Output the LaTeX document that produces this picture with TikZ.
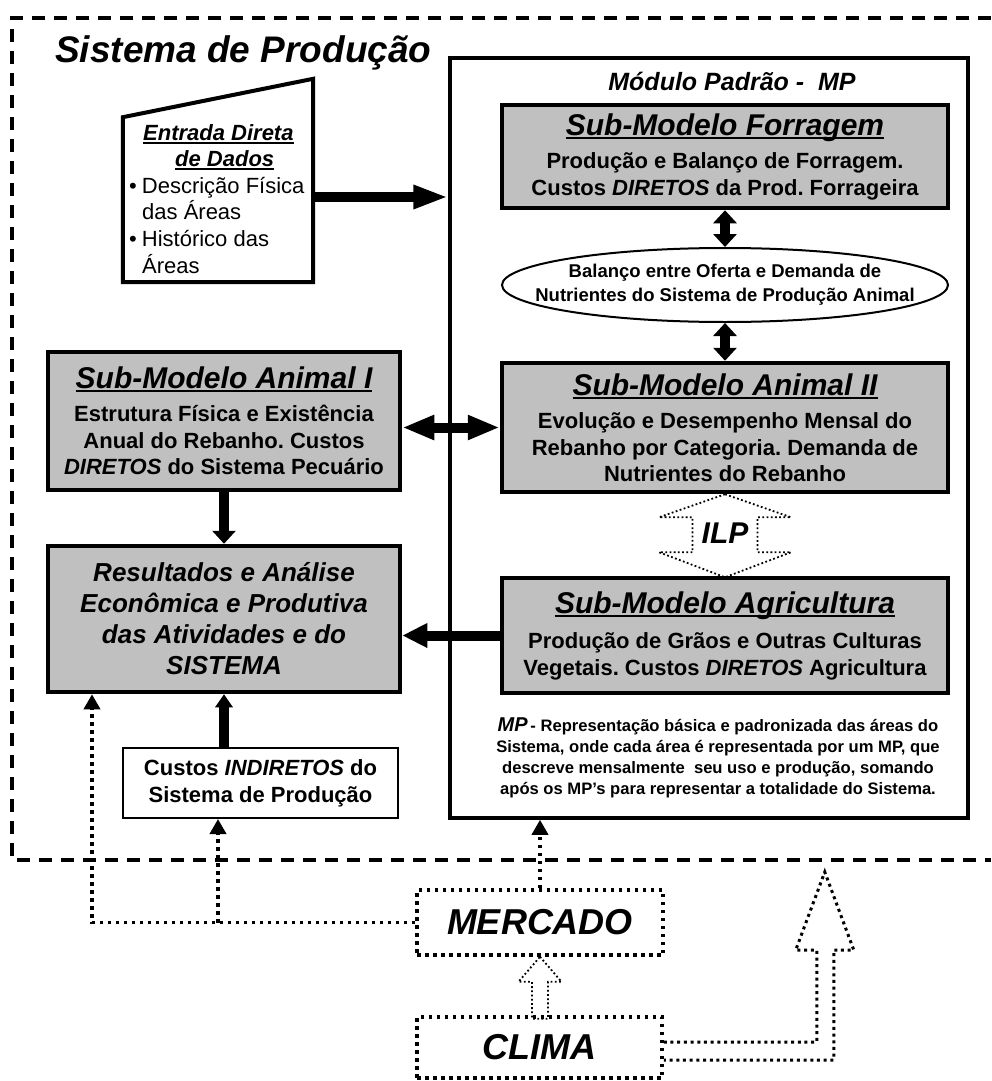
\documentclass[tikz,border=0pt]{standalone}
\usepackage{fontspec}
\setmainfont{Liberation Sans}
\frenchspacing
\usetikzlibrary{arrows.meta,shapes.geometric,positioning}
\definecolor{cinza}{RGB}{192,192,192}
\newcommand{\sublinha}[1]{\setbox0\hbox{#1}\rlap{\rule[-3.5pt]{\wd0}{1.8pt}}\box0}
\newcommand{\tit}[1]{{\fontsize{30}{30}\selectfont\itshape\sublinha{#1}}}
\tikzset{
  submodelo/.style={draw, line width=4.5pt, fill=cinza, minimum width=446pt, inner sep=0pt, align=center,
    font=\fontsize{22}{26.5}\selectfont\bfseries},
  grossa/.style={line width=10pt},
  pontos/.style={line width=3.5pt, dash pattern=on 3.5pt off 4.5pt},
  pontos3/.style={line width=3pt, dash pattern=on 3pt off 3.7pt},
  pontinhos/.style={line width=1.8pt, dash pattern=on 1.8pt off 2.4pt},
  pontaP/.style={-{Triangle[length=15pt,width=16pt]}},
}
\begin{document}
\begin{tikzpicture}[x=1pt, y=-1pt]
  \useasboundingbox (0,0) rectangle (991,1081);
  \draw[line width=3.5pt, dash pattern=on 13pt off 9pt] (991,18) -- (12,18) -- (12,860) -- (991,860);
  \node[anchor=base west, inner sep=0pt, font=\fontsize{37}{37}\selectfont\bfseries\itshape] (sistema) at (55,63) {Sistema de Produção};

  \node[draw, line width=3.5pt, minimum width=518pt, minimum height=760pt, inner sep=0pt] (modulo) at (709,438) {};
  \node[anchor=base, inner sep=0pt, font=\fontsize{25}{25}\selectfont\bfseries\itshape] (modulotitulo) at (732,90) {Módulo Padrão -\ \ MP};

  \node[minimum width=190pt, minimum height=203pt, inner sep=0pt] (entrada) at (218,180.5) {};
  \draw[line width=4pt] (entrada.south west) -- ++(0,-165) -- (entrada.north east) -- (entrada.south east) -- cycle;
  \node[anchor=north west, align=left, inner sep=0pt, font=\fontsize{22}{26.6}\selectfont] (entradatexto) at (129,124) {%
    \hspace*{14pt}{\bfseries\itshape\sublinha{Entrada Direta}}\\
    \hspace*{46pt}{\bfseries\itshape\sublinha{de Dados}}\\
    •\hspace{5pt}Descrição Física\\
    \hspace*{13pt}das Áreas\\
    •\hspace{5pt}Histórico das\\
    \hspace*{13pt}Áreas};

  \node[submodelo, minimum height=103pt] (forragem) at (725,156.5) {\tit{Sub-Modelo Forragem}\\[7pt] Produção e Balanço de Forragem.\\ Custos \textit{DIRETOS} da Prod. Forrageira};
  \node[draw, ellipse, line width=2pt, minimum width=446pt, minimum height=74pt, inner sep=0pt] (balanco) at (725,285) {};
  \node[align=center, font=\fontsize{18.5}{24}\selectfont\bfseries] (balancotexto) at (balanco.center) {Balanço entre Oferta e Demanda de\\ Nutrientes do Sistema de Produção Animal};
  \node[submodelo, minimum height=129pt] (animalII) at (725,427.5) {\tit{Sub-Modelo Animal II}\\[7pt] Evolução e Desempenho Mensal do\\ Rebanho por Categoria. Demanda de\\ Nutrientes do Rebanho};
  \node[submodelo, minimum height=115pt] (agricultura) at (725,635.5) {\tit{Sub-Modelo Agricultura}\\[9pt] Produção de Grãos e Outras Culturas\\ Vegetais. Custos \textit{DIRETOS} Agricultura};
  \node[anchor=north, align=center, inner sep=0pt, font=\fontsize{16.6}{21}\selectfont\bfseries] (nota) at (718,718) {%
    {\fontsize{20}{21}\selectfont\itshape MP}\,- Representação básica e padronizada das áreas do\\
    Sistema, onde cada área é representada por um MP, que\\
    descreve mensalmente\ \ seu uso e produção, somando\\
    após os MP’s para representar a totalidade do Sistema.};

  \node[submodelo, minimum width=352pt, minimum height=138pt] (animalI) at (224,421) {\tit{Sub-Modelo Animal I}\\[6.5pt] Estrutura Física e Existência\\ Anual do Rebanho. Custos\\ \textit{DIRETOS} do Sistema Pecuário};
  \node[submodelo, minimum width=352pt, minimum height=146pt, font=\fontsize{26}{31}\selectfont\bfseries\itshape] (resultados) at (224,619) {Resultados e Análise\\ Econômica e Produtiva\\ das Atividades e do\\ SISTEMA};
  \node[draw, line width=2pt, minimum width=275pt, minimum height=70pt, inner sep=0pt, align=center, font=\fontsize{22}{27}\selectfont\bfseries] (custos) at (260.5,783) {Custos \textit{INDIRETOS} do\\ Sistema de Produção};

  \node[pontos, draw, minimum width=246pt, minimum height=65pt, font=\fontsize{36}{36}\selectfont\bfseries\itshape] (mercado) at (540,922.5) {MERCADO};
  \node[pontos, draw, minimum width=245pt, minimum height=61pt, font=\fontsize{36}{36}\selectfont\bfseries\itshape] (clima) at (539.5,1047.5) {CLIMA};

  \coordinate (eA) at ([yshift=-16.5pt]entrada.east);
  \draw[grossa, -{Triangle[length=35pt,width=22pt]}] (eA) -- (eA -| modulo.west);
  \draw[grossa, {Triangle[length=13pt,width=23pt]}-{Triangle[length=13pt,width=23pt]}] (forragem.south) -- (balanco.north);
  \draw[grossa, {Triangle[length=13pt,width=23pt]}-{Triangle[length=13pt,width=23pt]}] (balanco.south) -- (animalII.north);
  \draw[grossa, {Triangle[length=32pt,width=23pt]}-{Triangle[length=32pt,width=23pt]}] (animalI.east |- animalII.west) -- (animalII.west);
  \draw[grossa, -{Triangle[length=13pt,width=23pt]}] (animalI.south) -- (resultados.north);
  \draw[grossa, -{Triangle[length=25pt,width=23pt]}] (agricultura.west) -- (agricultura.west -| resultados.east);
  \draw[grossa, -{Triangle[length=13pt,width=17pt]}] (resultados.south |- custos.north) -- (resultados.south);

  \draw[pontinhos] (animalII.south) -- ++(-66,23) -- ++(33.5,0) -- ++(0,35) -- ++(-33.5,0) -- ++(66,25) -- ++(66,-25) -- ++(-33.5,0) -- ++(0,-35) -- ++(33.5,0) -- cycle;
  \node[font=\fontsize{30}{30}\selectfont\bfseries\itshape] (ilp) at (725,533) {ILP};

  \coordinate (cR) at (92,922.5);
  \coordinate (cC) at (218,922.5);
  \draw[pontos, pontaP] (mercado.west) -- (cR) -- (cR |- resultados.south);
  \draw[pontos, pontaP] (cC) -- (cC |- custos.south);
  \draw[pontos, pontaP] (mercado.north) -- (mercado.north |- modulo.south);
  \draw[pontinhos] (mercado.south) -- ++(21.5,25) -- ++(-13.5,0) -- ++(0,37) -- ++(-16,0) -- ++(0,-37) -- ++(-13.5,0) -- cycle;
  \draw[pontos3] ([yshift=5.5pt]clima.east) -- ++(153,0) -- ++(0,-92) -- ++(-21,0) -- ++(29,-78) -- ++(29,78) -- ++(-20,0) -- ++(0,110) -- ([yshift=-12.5pt]clima.east);
\end{tikzpicture}
\end{document}
